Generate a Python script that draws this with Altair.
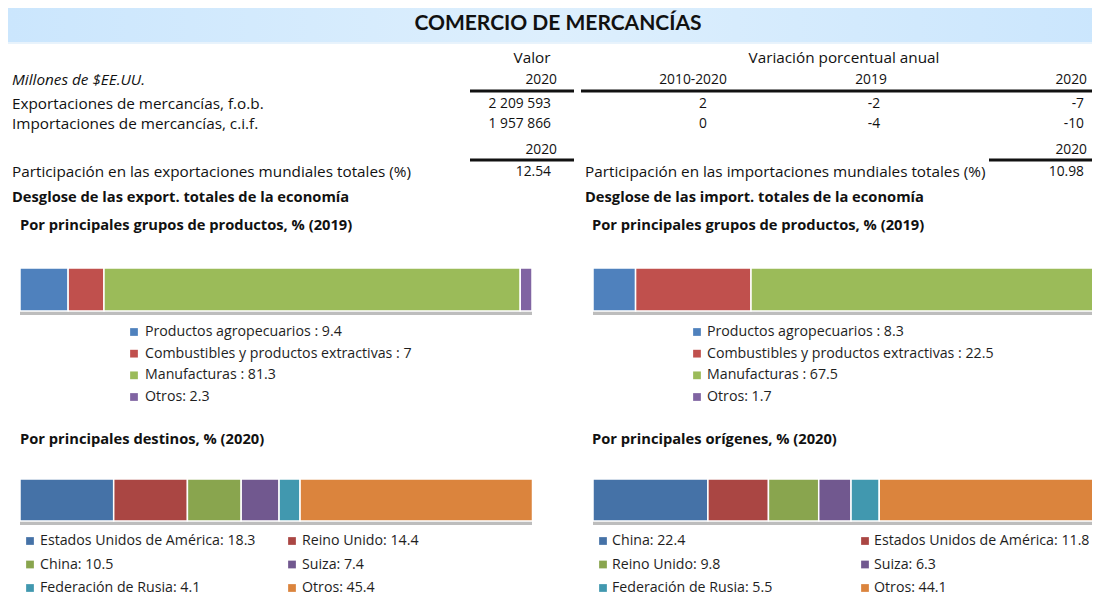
import altair as alt
import pandas as pd

# ---------------- data ----------------
TITLE = "COMERCIO DE MERCANCÍAS"
UNIT_LABEL = "Millones de $EE.UU."
VALUE_HEADER = "Valor"
VAR_HEADER = "Variación porcentual anual"
COL_HEADERS = ["2020", "2010-2020", "2019", "2020"]
ROW_LABELS = ["Exportaciones de mercancías, f.o.b.", "Importaciones de mercancías, c.i.f."]
VALUE_2020 = ["2 209 593", "1 957 866"]
VAR_2010_2020 = ["2", "0"]
VAR_2019 = ["-2", "-4"]
VAR_2020 = ["-7", "-10"]
SHARE_YEAR = "2020"
SHARE_LABELS = ["Participación en las exportaciones mundiales totales (%)",
                "Participación en las importaciones mundiales totales (%)"]
SHARE_VALUES = ["12.54", "10.98"]
SECTION_TITLES = ["Desglose de las export. totales de la economía",
                  "Desglose de las import. totales de la economía"]
PRODUCT_TITLES = ["Por principales grupos de productos, % (2019)",
                  "Por principales grupos de productos, % (2019)"]
PARTNER_TITLES = ["Por principales destinos, % (2020)",
                  "Por principales orígenes, % (2020)"]

PRODUCT_GROUPS = ["Productos agropecuarios", "Combustibles y productos extractivas",
                  "Manufacturas", "Otros"]
EXPORT_PRODUCT_SHARES = [9.4, 7, 81.3, 2.3]
IMPORT_PRODUCT_SHARES = [8.3, 22.5, 67.5, 1.7]

DESTINATIONS = ["Estados Unidos de América", "Reino Unido", "China", "Suiza",
                "Federación de Rusia", "Otros"]
DESTINATION_SHARES = [18.3, 14.4, 10.5, 7.4, 4.1, 45.4]
ORIGINS = ["China", "Estados Unidos de América", "Reino Unido", "Suiza",
           "Federación de Rusia", "Otros"]
ORIGIN_SHARES = [22.4, 11.8, 9.8, 6.3, 5.5, 44.1]

# ---------------- style ----------------
PRODUCT_COLORS = ["#4F81BD", "#C0504D", "#9BBB59", "#8064A2"]
PARTNER_COLORS = ["#4572A7", "#AA4643", "#89A54E", "#71588F", "#4198AF", "#DB843D"]
INK = "#111111"
LEG_INK = "#1e1e1e"
FONT = "Open Sans"
WORD_SIZE = 15.3
NUM_SIZE = 13.8
HEAD_SIZE = 14.7
LSIZE = 14.2

W, H = 1084, 590
OFF = 8


def X(v):
    return v - OFF


def Y(v):
    return max(0.0, v - OFF)


ONE = pd.DataFrame({"k": [0]})
layers = []


def text(s, x, y, align="left", size=WORD_SIZE, bold=False, italic=False, font=FONT, color=INK):
    return alt.Chart(pd.DataFrame({"t": [s]})).mark_text(
        align=align, baseline="middle", fontSize=size,
        fontWeight="bold" if bold else "normal",
        fontStyle="italic" if italic else "normal",
        font=font, color=color,
    ).encode(text="t:N", x=alt.value(X(x)), y=alt.value(Y(y)))


def column(values, x, align, size, y0=104, y1=124):
    df = pd.DataFrame({"t": values, "r": list(range(len(values)))})
    return alt.Chart(df).mark_text(
        align=align, baseline="middle", fontSize=size, font=FONT, color=INK
    ).encode(
        text="t:N",
        x=alt.value(X(x)),
        y=alt.Y("r:O", scale=alt.Scale(domain=list(range(len(values))),
                                        range=[Y(y0), Y(y1)], padding=0), axis=None),
    )


def rule(x0, x1, y, w=3):
    return alt.Chart(ONE).mark_rule(color=INK, strokeWidth=w).encode(
        x=alt.value(X(x0)), x2=alt.value(X(x1)), y=alt.value(Y(y)))


def stacked_bar(cats, vals, colors, x0, x1, y0, y1):
    df = pd.DataFrame({"cat": cats, "val": vals, "ord": list(range(len(cats)))})
    xs = alt.Scale(domain=[0, 100], range=[X(x0), X(x1)])
    shadow = alt.Chart(pd.DataFrame({"a": [0], "b": [100]})).mark_rect(
        color="#BDBDBD").encode(
        x=alt.X("a:Q", scale=xs, axis=None), x2="b:Q",
        y=alt.value(Y(y1)), y2=alt.value(Y(y1) + 4))
    bars = alt.Chart(df).transform_window(
        end="sum(val)", sort=[alt.SortField("ord")], frame=[None, 0]
    ).transform_calculate(start="datum.end - datum.val").mark_rect(
        stroke="white", strokeWidth=1.5
    ).encode(
        x=alt.X("start:Q", scale=xs, axis=None), x2="end:Q",
        y=alt.value(Y(y0)), y2=alt.value(Y(y1)),
        color=alt.Color("cat:N", scale=alt.Scale(domain=cats, range=colors), legend=None),
    )
    return [shadow, bars]


def legend(labels, colors, x_sq, x_txt, y0, y1, ncol=1, col_dx=0):
    n = len(labels)
    nrow = -(-n // ncol)
    df = pd.DataFrame({"lab": labels,
                       "row": [i // ncol for i in range(n)],
                       "col": [i % ncol for i in range(n)]})
    ys = alt.Y("row:O", scale=alt.Scale(domain=list(range(nrow)),
                                        range=[Y(y0), Y(y1)], padding=0), axis=None)

    def xenc(x):
        if ncol == 1:
            return alt.value(X(x))
        return alt.X("col:O", scale=alt.Scale(domain=list(range(ncol)),
                                              range=[X(x), X(x + col_dx)], padding=0), axis=None)

    sq = alt.Chart(df).mark_square(size=60, opacity=1).encode(
        x=xenc(x_sq), y=ys,
        color=alt.Color("lab:N", scale=alt.Scale(domain=labels, range=colors), legend=None))
    tx = alt.Chart(df).mark_text(
        align="left", baseline="middle", font=FONT, fontSize=LSIZE, color=LEG_INK
    ).encode(x=xenc(x_txt), y=ys, text="lab:N")
    return [sq, tx]


def product_labels(groups, vals):
    return [f"{g}{': ' if g == 'Otros' else ' : '}{v:g}" for g, v in zip(groups, vals)]


def partner_labels(names, vals):
    return [f"{n}: {v:g}" for n, v in zip(names, vals)]


# ---------------- banner ----------------
grad = alt.LinearGradient(
    gradient="linear",
    stops=[alt.GradientStop(color="#CBE6FD", offset=0),
           alt.GradientStop(color="#DDEFFD", offset=0.5),
           alt.GradientStop(color="#CBE6FD", offset=1)],
    x1=0, x2=1, y1=0, y2=0)
layers.append(alt.Chart(ONE).mark_rect(color=grad).encode(
    x=alt.value(X(8)), x2=alt.value(X(1100)), y=alt.value(Y(5)), y2=alt.value(Y(42))))
layers.append(alt.Chart(ONE).mark_rect(color="#E8F3FC").encode(
    x=alt.value(X(8)), x2=alt.value(X(1100)), y=alt.value(Y(42)), y2=alt.value(Y(44))))
layers.append(text(TITLE, 558, 24, align="center", size=21, bold=True, font="Lato"))

# ---------------- table ----------------
layers.append(text(VALUE_HEADER, 532, 58, align="center"))
layers.append(text(VAR_HEADER, 844, 58, align="center"))
layers.append(text(UNIT_LABEL, 12, 80, italic=True))
layers.append(text(COL_HEADERS[0], 557, 80, align="right", size=NUM_SIZE))
layers.append(text(COL_HEADERS[1], 693, 80, align="center", size=NUM_SIZE))
layers.append(text(COL_HEADERS[2], 871, 80, align="center", size=NUM_SIZE))
layers.append(text(COL_HEADERS[3], 1087, 80, align="right", size=NUM_SIZE))
layers.append(rule(470, 574, 91))
layers.append(rule(581, 1100, 91))

layers.append(column(ROW_LABELS, 12, "left", WORD_SIZE))
layers.append(column(VALUE_2020, 551, "right", NUM_SIZE))
layers.append(column(VAR_2010_2020, 703, "center", NUM_SIZE))
layers.append(column(VAR_2019, 874, "center", NUM_SIZE))
layers.append(column(VAR_2020, 1084, "right", NUM_SIZE))

layers.append(text(SHARE_YEAR, 557, 150, align="right", size=NUM_SIZE))
layers.append(text(SHARE_YEAR, 1087, 150, align="right", size=NUM_SIZE))
layers.append(rule(470, 574, 160))
layers.append(rule(989, 1100, 160))
layers.append(text(SHARE_LABELS[0], 12, 172))
layers.append(text(SHARE_VALUES[0], 551, 172, align="right", size=NUM_SIZE))
layers.append(text(SHARE_LABELS[1], 585, 172))
layers.append(text(SHARE_VALUES[1], 1084, 172, align="right", size=NUM_SIZE))

layers.append(text(SECTION_TITLES[0], 12, 198, bold=True, size=HEAD_SIZE))
layers.append(text(SECTION_TITLES[1], 585, 198, bold=True, size=HEAD_SIZE))
layers.append(text(PRODUCT_TITLES[0], 20, 226, bold=True, size=HEAD_SIZE))
layers.append(text(PRODUCT_TITLES[1], 592, 226, bold=True, size=HEAD_SIZE))
layers.append(text(PARTNER_TITLES[0], 20, 440, bold=True, size=HEAD_SIZE))
layers.append(text(PARTNER_TITLES[1], 592, 440, bold=True, size=HEAD_SIZE))

# ---------------- bars ----------------
layers += stacked_bar(PRODUCT_GROUPS, EXPORT_PRODUCT_SHARES, PRODUCT_COLORS, 20, 532, 268, 311)
layers += stacked_bar(PRODUCT_GROUPS, IMPORT_PRODUCT_SHARES, PRODUCT_COLORS, 593, 1106, 268, 311)
layers += stacked_bar(DESTINATIONS, DESTINATION_SHARES, PARTNER_COLORS, 20, 532, 479, 521)
layers += stacked_bar(ORIGINS, ORIGIN_SHARES, PARTNER_COLORS, 593, 1106, 479, 521)

# ---------------- legends ----------------
layers += legend(product_labels(PRODUCT_GROUPS, EXPORT_PRODUCT_SHARES), PRODUCT_COLORS,
                 134, 145, 332, 397)
layers += legend(product_labels(PRODUCT_GROUPS, IMPORT_PRODUCT_SHARES), PRODUCT_COLORS,
                 697, 707, 332, 397)
layers += legend(partner_labels(DESTINATIONS, DESTINATION_SHARES), PARTNER_COLORS,
                 30, 40, 541, 588, ncol=2, col_dx=262)
layers += legend(partner_labels(ORIGINS, ORIGIN_SHARES), PARTNER_COLORS,
                 603, 612, 541, 588, ncol=2, col_dx=262)

chart = alt.layer(*layers).resolve_scale(
    x="independent", y="independent", color="independent"
).properties(
    width=W, height=H, padding=0,
    autosize=alt.AutoSizeParams(type="none"),
).configure_view(stroke=None)

chart.save("out.html", embed_options={"renderer": "svg", "actions": False})
